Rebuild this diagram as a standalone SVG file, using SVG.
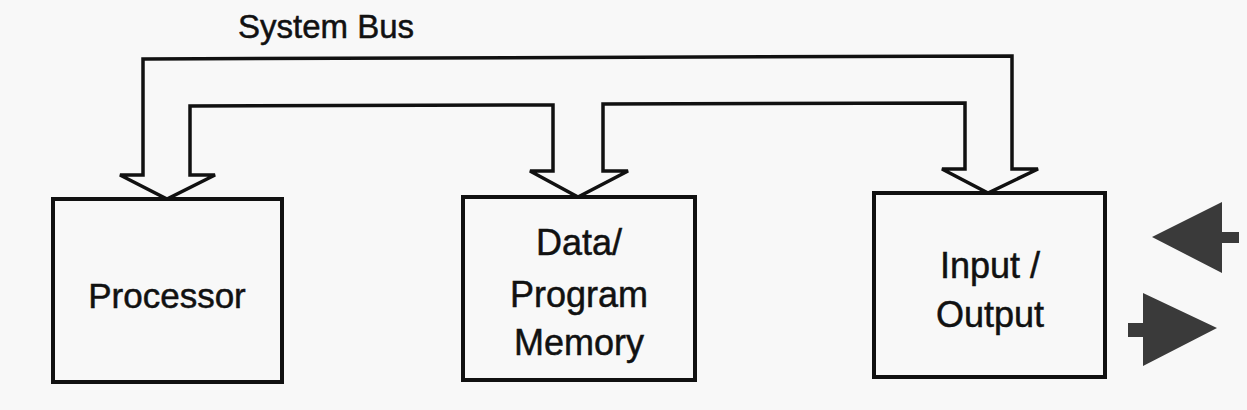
<svg xmlns="http://www.w3.org/2000/svg" width="1247" height="410" viewBox="0 0 1247 410">
<style>
.box{fill:#f8f8f8;stroke:#111;stroke-width:4}
.lbl{font-family:"Liberation Sans",Arial,sans-serif;fill:#111;stroke:#111;stroke-width:0.5;text-anchor:middle}
.bus{fill:none;stroke:#111;stroke-width:3.5;stroke-linejoin:miter}
.io{fill:#3a3a3a}
</style>
<rect width="1247" height="410" fill="#f8f8f8"/>
<g id="connectors">
<polygon class="bus" points="143,59 1012,56 1012,169 1038,169 988,193 942,169 965,169 965,103 603,104 603,171 628,171 578,197 530,171 553,171 553,105 190,106 190,175 215,175 167,199 120,175 143,175"/>
<polygon class="io" points="1152,237 1222,202 1222,232 1239,232 1239,243 1222,243 1222,273"/>
<polygon class="io" points="1217,328 1143,293 1143,323 1128,323 1128,337 1143,337 1143,366"/>
</g>
<g id="bus-label">
<text class="lbl" x="326" y="38" font-size="33">System Bus</text>
</g>
<g id="processor">
<rect class="box" x="53" y="199" width="229" height="183"/>
<text class="lbl" x="167" y="308" font-size="35">Processor</text>
</g>
<g id="memory">
<rect class="box" x="463" y="197" width="232" height="183"/>
<text class="lbl" x="579" y="255" font-size="36">Data/</text>
<text class="lbl" x="579" y="307" font-size="36">Program</text>
<text class="lbl" x="579" y="355" font-size="36">Memory</text>
</g>
<g id="io">
<rect class="box" x="874" y="193" width="231" height="184"/>
<text class="lbl" x="990" y="278" font-size="36">Input /</text>
<text class="lbl" x="990" y="327" font-size="36">Output</text>
</g>
</svg>
